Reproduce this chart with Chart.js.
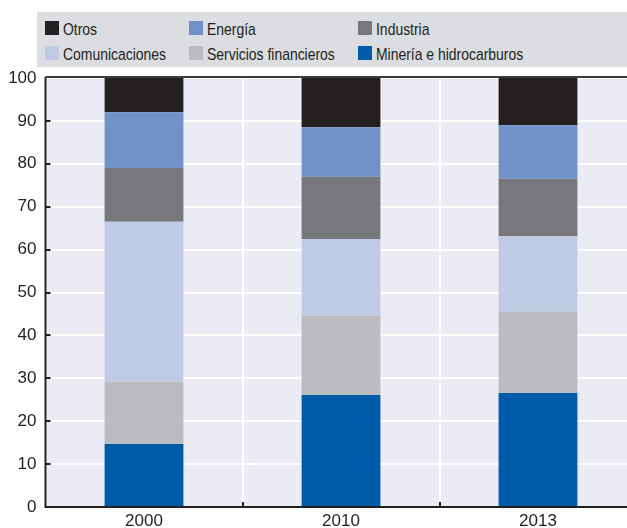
<!DOCTYPE html>
<html>
<head>
<meta charset="utf-8">
<script src="https://cdn.jsdelivr.net/npm/chart.js@4/dist/chart.umd.min.js"></script>
<style>
  html, body { margin: 0; padding: 0; background: #ffffff; overflow: hidden; width: 627px; height: 528px; }
  #wrap { position: relative; width: 627px; height: 528px; overflow: hidden; }
  #c { position: absolute; left: 0; top: 0; }
  #legend { position: absolute; left: 37px; top: 12px; width: 590px; height: 55px; background: #dcdde0; }
  .item { position: absolute; height: 16px; white-space: nowrap;
          font-family: 'Liberation Sans', Arial, sans-serif;
          font-size: 17px; line-height: 16px; color: #231f20; }
  .sw { position: absolute; left: 0; top: 1px; width: 14px; height: 14px; }
  .lbl { position: absolute; left: 18px; top: 2px; transform: scaleX(0.82); transform-origin: 0 50%; }
</style>
</head>
<body>
<div id="wrap">
  <canvas id="c" width="640" height="528"></canvas>
  <div id="legend"></div>
</div>
<script>
// ---- Data ----
const categories = ['2000', '2010', '2013'];
const mineria = [14.7, 26.1, 26.6];
const financieros = [14.5, 18.5, 18.9];
const comunicaciones = [37.3, 17.9, 17.6];
const industria = [12.5, 14.5, 13.4];
const energia = [13.0, 11.5, 12.5];
const otros = [8.0, 11.5, 11.0];
const seriesNames = ['Minería e hidrocarburos', 'Servicios financieros', 'Comunicaciones', 'Industria', 'Energía', 'Otros'];
const seriesData = [mineria, financieros, comunicaciones, industria, energia, otros];
const seriesColors = ['#005ca8', '#bbbcbf', '#c0cae5', '#77787b', '#7092c8', '#231f20'];
const yMin = 0, yMax = 100, yStep = 10;

const FONT = "'Liberation Sans', Arial, sans-serif";

const datasets = seriesNames.map((n, i) => ({
  label: n,
  data: seriesData[i],
  backgroundColor: seriesColors[i],
  borderWidth: 0,
  barPercentage: 0.4,
  categoryPercentage: 1.0
}));

// HTML legend (row-wise: Otros, Energía, Industria / Comunicaciones, Servicios financieros, Minería)
const legendOrder = [5, 4, 3, 2, 1, 0];
const colX = [8, 152, 321];
const rowY = [8, 33];
const legend = document.getElementById('legend');
legendOrder.forEach((si, k) => {
  const d = document.createElement('div');
  d.className = 'item';
  d.style.left = colX[k % 3] + 'px';
  d.style.top = rowY[Math.floor(k / 3)] + 'px';
  const sw = document.createElement('span');
  sw.className = 'sw';
  sw.style.background = seriesColors[si];
  const t = document.createElement('span');
  t.className = 'lbl';
  t.textContent = seriesNames[si];
  d.appendChild(sw); d.appendChild(t);
  legend.appendChild(d);
});

const bgPlugin = {
  id: 'bg',
  beforeDraw(chart) {
    const { ctx, chartArea: a } = chart;
    ctx.save();
    ctx.fillStyle = '#ebebf5';
    ctx.fillRect(a.left, a.top, a.right - a.left, a.bottom - a.top);
    ctx.restore();
  },
  afterDraw(chart) {
    const { ctx, chartArea: a } = chart;
    const ys = chart.scales.y, xs = chart.scales.x;
    ctx.save();
    ctx.strokeStyle = '#231f20';
    ctx.lineWidth = 2;
    ctx.beginPath(); ctx.moveTo(a.left, a.top - 1); ctx.lineTo(a.left, a.bottom + 1); ctx.stroke();
    ctx.beginPath(); ctx.moveTo(a.left, a.bottom); ctx.lineTo(a.right, a.bottom); ctx.stroke();
    ctx.strokeStyle = '#3c3c3e';
    ctx.beginPath(); ctx.moveTo(a.left, a.top - 1); ctx.lineTo(a.right, a.top - 1); ctx.stroke();
    ctx.strokeStyle = '#231f20';
    for (let v = yMin + yStep; v < yMax; v += yStep) {
      const y = Math.round(ys.getPixelForValue(v));
      ctx.beginPath(); ctx.moveTo(a.left, y); ctx.lineTo(a.left + 5, y); ctx.stroke();
    }
    for (let i = 0; i < categories.length - 1; i++) {
      const x = Math.round((xs.getPixelForValue(i) + xs.getPixelForValue(i + 1)) / 2);
      ctx.beginPath(); ctx.moveTo(x, a.bottom); ctx.lineTo(x, a.bottom - 5); ctx.stroke();
    }
    ctx.restore();
  }
};

new Chart(document.getElementById('c'), {
  type: 'bar',
  data: { labels: categories, datasets },
  options: {
    responsive: false,
    animation: false,
    devicePixelRatio: 1,
    layout: { padding: { top: 78, right: 3.5, left: 0, bottom: 0 } },
    plugins: { legend: { display: false }, tooltip: { enabled: false } },
    scales: {
      x: {
        stacked: true,
        grid: { display: true, offset: true, color: '#ffffff', lineWidth: 2, drawTicks: false },
        border: { display: false },
        ticks: { color: '#231f20', font: { family: FONT, size: 17 }, padding: 4, maxRotation: 0 },
        afterFit(s) { s.height = 21; }
      },
      y: {
        stacked: true,
        min: yMin, max: yMax,
        grid: { color: '#ffffff', lineWidth: 2, drawTicks: false },
        border: { display: false },
        ticks: { stepSize: yStep, color: '#231f20', font: { family: FONT, size: 17 }, padding: 9 },
        afterFit(s) { s.width = 45.5; }
      }
    }
  },
  plugins: [bgPlugin]
});
</script>
</body>
</html>
